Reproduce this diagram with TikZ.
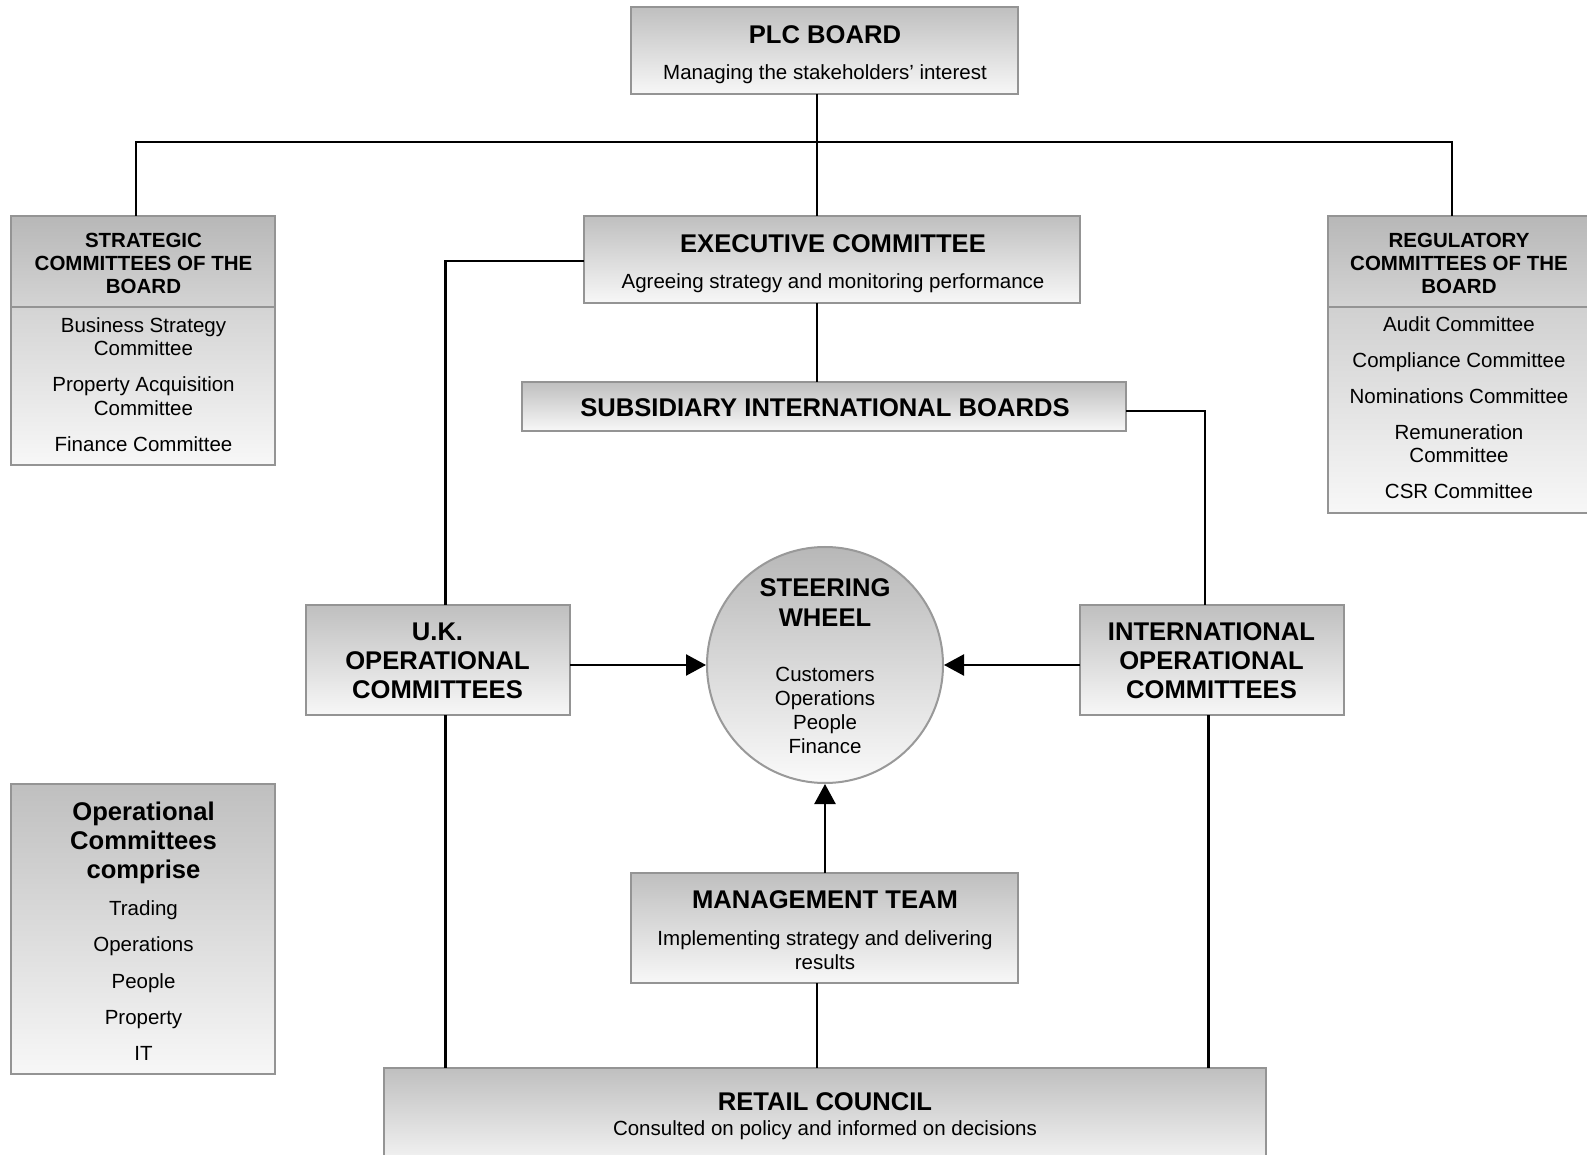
\documentclass[tikz,border=0pt]{standalone}
\usepackage{fontspec}
\setmainfont{Liberation Sans}
\usetikzlibrary{arrows.meta}
\begin{document}
\begin{tikzpicture}[x=0.5pt,y=-0.5pt,
  box/.style={draw=black!42, line width=1pt, top color=black!25, bottom color=black!3, inner sep=0pt, outer sep=0pt},
  hdr/.style={draw=black!42, line width=1pt, top color=black!28, bottom color=black!17},
  conn/.style={line width=1.2pt, black},
  arr/.style={conn, -{Triangle[length=10pt,width=10.5pt]}},
  tt/.style={font=\bfseries\fontsize{12.8}{14.7}\selectfont, text height=9.2pt, text depth=0pt, inner sep=0pt},
  ht/.style={font=\bfseries\fontsize{10.25}{12}\selectfont, text height=7.35pt, text depth=0pt, inner sep=0pt},
  st/.style={font=\fontsize{10.25}{12}\selectfont, text height=7.35pt, text depth=0pt, inner sep=0pt},
]
\useasboundingbox[fill=white] (0,0) rectangle (1587,1155);

% ---------- boxes ----------
\node[box, minimum width=193.5pt, minimum height=43.5pt] (plc) at (824.5,50.5) {};
\node[box, minimum width=132pt, minimum height=124.5pt] (strat) at (143,340.5) {};
\node[box, minimum width=132pt, minimum height=148.5pt] (reg) at (1460,364.5) {};
\coordinate (sepS) at (143,307);
\coordinate (sepR) at (1460,307);
\draw[hdr] (strat.north west) rectangle (strat.east |- sepS);
\draw[hdr] (reg.north west) rectangle (reg.east |- sepR);
\node[box, minimum width=248pt, minimum height=43.5pt] (exec) at (832,259.5) {};
\node[box, minimum width=302pt, minimum height=24.5pt] (sub) at (824,406.5) {};
\node[box, minimum width=132pt, minimum height=55pt] (uk) at (438,660) {};
\node[box, minimum width=132pt, minimum height=55pt] (intl) at (1212,660) {};
\node[circle, draw=black!40, line width=1pt, top color=black!28, bottom color=black!2, minimum size=118pt, inner sep=0pt] (wheel) at (825,665) {};
\node[box, minimum width=193.5pt, minimum height=55pt] (mgmt) at (824.5,928) {};
\node[box, minimum width=441pt, minimum height=51pt] (retail) at (825,1119) {};
\node[box, minimum width=132pt, minimum height=145pt] (opc) at (143,929) {};

% ---------- connectors ----------
\coordinate (cx) at (817,142);
\coordinate (lx) at (136,142);
\coordinate (rx) at (1452,142);
\coordinate (ukx) at (445.5,261);
\coordinate (ix) at (1205,411);
\coordinate (ukb) at (445.5,0);
\coordinate (inb) at (1208.5,0);
\draw[conn] (plc.south -| cx) -- (exec.north -| cx);
\draw[conn] (strat.north -| lx) -- (lx) -- (rx) -- (reg.north -| rx);
\draw[conn] (exec.south -| cx) -- (sub.north -| cx);
\draw[conn] (ukx -| exec.west) -- (ukx) -- (uk.north -| ukx);
\draw[conn] (ix -| sub.east) -- (ix) -- (intl.north -| ix);
\draw[arr] (uk.east |- wheel.west) -- (wheel.west);
\draw[arr] (intl.west |- wheel.east) -- (wheel.east);
\draw[arr] (mgmt.north -| wheel.south) -- (wheel.south);
\draw[conn] (mgmt.south -| cx) -- (retail.north -| cx);
\draw[conn] (uk.south -| ukb) -- (retail.north -| ukb);
\draw[conn] (intl.south -| inb) -- (retail.north -| inb);

% ---------- texts ----------
\node[tt] (plcT) at (825,34) {PLC BOARD};
\node[st] (plcS) at (825,72) {Managing the stakeholders’ interest};

\node[tt] (execT) at (833,243) {EXECUTIVE COMMITTEE};
\node[st] (execS) at (833,281) {Agreeing strategy and monitoring performance};

\node[tt] (subT) at (825,407) {SUBSIDIARY INTERNATIONAL BOARDS};

\node[ht] (sh1) at (143.5,240) {STRATEGIC};
\node[ht] (sh2) at (143.5,263) {COMMITTEES OF THE};
\node[ht] (sh3) at (143.5,286.5) {BOARD};
\node[st] (si1) at (143.5,325) {Business Strategy};
\node[st] (si2) at (143.5,348) {Committee};
\node[st] (si3) at (143.5,384) {Property Acquisition};
\node[st] (si4) at (143.5,408) {Committee};
\node[st] (si5) at (143.5,444) {Finance Committee};

\node[ht] (rh1) at (1459,240) {REGULATORY};
\node[ht] (rh2) at (1459,263) {COMMITTEES OF THE};
\node[ht] (rh3) at (1459,286.5) {BOARD};
\node[st] (ri1) at (1459,324) {Audit Committee};
\node[st] (ri2) at (1459,360) {Compliance Committee};
\node[st] (ri3) at (1459,396) {Nominations Committee};
\node[st] (ri4) at (1459,432) {Remuneration};
\node[st] (ri5) at (1459,455.5) {Committee};
\node[st] (ri6) at (1459,491.5) {CSR Committee};

\node[tt] (uk1) at (437.5,631) {U.K.};
\node[tt] (uk2) at (437.5,660) {OPERATIONAL};
\node[tt] (uk3) at (437.5,689) {COMMITTEES};

\node[tt] (in1) at (1211.5,631) {INTERNATIONAL};
\node[tt] (in2) at (1211.5,660) {OPERATIONAL};
\node[tt] (in3) at (1211.5,689) {COMMITTEES};

\node[tt] (w1) at (825,587.5) {STEERING};
\node[tt] (w2) at (825,617.5) {WHEEL};
\node[st] (w3) at (825,674) {Customers};
\node[st] (w4) at (825,698) {Operations};
\node[st] (w5) at (825,722) {People};
\node[st] (w6) at (825,746) {Finance};

\node[tt] (mT) at (825,899) {MANAGEMENT TEAM};
\node[st] (mS1) at (825,938) {Implementing strategy and delivering};
\node[st] (mS2) at (825,962) {results};

\node[tt] (rT) at (825,1101) {RETAIL COUNCIL};
\node[st] (rS) at (825,1128) {Consulted on policy and informed on decisions};

\node[tt] (o1) at (143.5,811) {Operational};
\node[tt] (o2) at (143.5,840) {Committees};
\node[tt] (o3) at (143.5,869) {comprise};
\node[st] (o4) at (143.5,908) {Trading};
\node[st] (o5) at (143.5,944) {Operations};
\node[st] (o6) at (143.5,981) {People};
\node[st] (o7) at (143.5,1017) {Property};
\node[st] (o8) at (143.5,1053) {IT};
\end{tikzpicture}
\end{document}
